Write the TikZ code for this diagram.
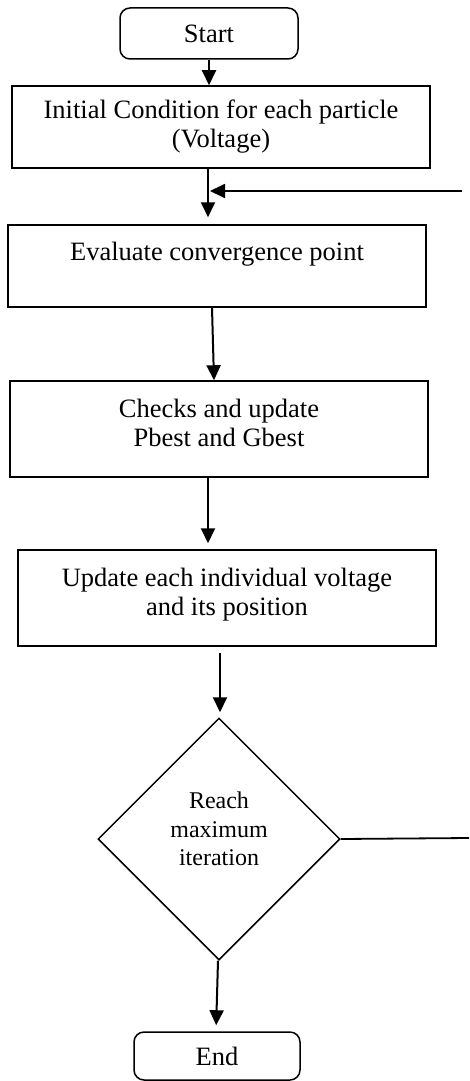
\documentclass[tikz,border=0pt]{standalone}
\usepackage{fontspec}
\setmainfont{Liberation Serif}
\usetikzlibrary{shapes.geometric,arrows.meta}
\begin{document}
\begin{tikzpicture}[x=1pt,y=-1pt,
  every node/.style={font=\fontsize{26.5}{29}\selectfont},
  procbox/.style={draw,line width=1.5pt,rectangle,align=center,minimum width=418pt,inner sep=0pt},
  termbox/.style={draw,line width=1.5pt,rectangle,rounded corners=10pt,align=center,inner sep=0pt},
  decision/.style={draw,line width=1.5pt,diamond,aspect=1,align=center,inner sep=0pt,
    minimum width=242pt,minimum height=242pt,font=\fontsize{24}{28.5}\selectfont},
  flow/.style={line width=2pt,-{Triangle[width=14pt,length=15pt]}},
  plain/.style={line width=1.8pt}]
\useasboundingbox (0,0) rectangle (469,1081);

% process steps
\node[termbox,minimum width=178pt,minimum height=51pt] (start) at (209,33.5) {Start};
\node[procbox,minimum height=82pt] (init) at (221,127) {Initial Condition for each particle\\(Voltage)};
\node[procbox,minimum height=82pt] (eval) at (217,266) {Evaluate convergence point\\\mbox{}};
\node[procbox,minimum height=96pt] (checks) at (219,429) {Checks and update\\Pbest and Gbest\\[-17pt]\mbox{}};
\node[procbox,minimum height=96pt] (update) at (227,598) {Update each individual voltage\\and its position\\[-17pt]\mbox{}};
\node[decision] (dia) at (219,839) {Reach\\maximum\\iteration\\[-8pt]\mbox{}};
\node[termbox,minimum width=166pt,minimum height=48pt] (end) at (217,1056) {End};

% loop-back ends
\coordinate (loopout) at (469,838);
\coordinate (loopin) at (462,191);
\coordinate (join) at (208,191);

% connectors
\draw[flow] (start.south) -- (start.south |- init.north);
\draw[flow,shorten >=7pt] ([xshift=-13pt]init.south) -- ([xshift=-9pt]eval.north);
\draw[flow] ([xshift=-5pt]eval.south) -- ([xshift=-5pt]checks.north);
\draw[flow,shorten >=6pt] ([xshift=-11pt]checks.south) -- ([xshift=-19pt]update.north);
\draw[flow,shorten <=6pt,shorten >=5pt] ([xshift=-7pt]update.south) -- ([xshift=1pt]dia.north);
\draw[flow,shorten >=6pt] ([xshift=-1pt]dia.south) -- ([xshift=-1pt]end.north);
\draw[plain] (dia.east) -- (loopout);
\draw[flow,line width=1.8pt,shorten >=2pt] (loopin) -- (join);
\end{tikzpicture}
\end{document}
